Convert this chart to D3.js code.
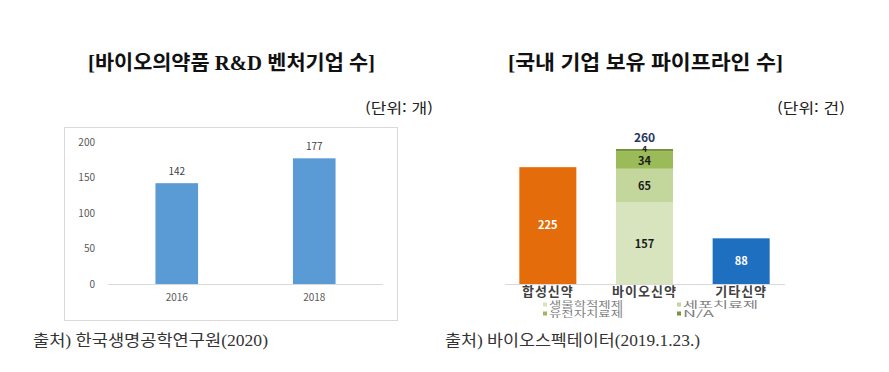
<!DOCTYPE html>
<html lang="ko">
<head>
<meta charset="utf-8">
<script src="https://cdn.jsdelivr.net/npm/d3@7"></script>
<style>
  body { margin: 0; background: #fff; }
  svg { display: block; }
  text { font-family: "Noto Sans CJK KR", "Noto Sans", sans-serif; }
</style>
</head>
<body>
<svg id="chart" width="889" height="372"></svg>
<script>
"use strict";

// left chart: venture companies
const ventureYears = ["2016", "2018"];
const ventureCounts = [142, 177];
const ventureTicks = [0, 50, 100, 150, 200];

// right chart: pipelines
const pipeCategories = ["합성신약", "바이오신약", "기타신약"];
const bioSegments = ["생물학적제제", "세포치료제", "유전자치료제", "N/A"];
const bioValues = [157, 65, 34, 4];
const otherValues = { "합성신약": 225, "기타신약": 88 };
const bioTotal = 260;

const svg = d3.select("#chart");

// titles and units
function title(x, txt, len) {
    svg.append("text")
        .attr("x", x).attr("y", 70)
        .attr("textLength", len).attr("lengthAdjust", "spacingAndGlyphs")
        .style("font-family", "'Liberation Serif', 'Noto Sans CJK KR'")
        .style("font-size", "20px").style("font-weight", "bold")
        .style("fill", "#111")
        .text(txt);
}
title(88, "[바이오의약품 R&D 벤처기업 수]", 287);
title(508, "[국내 기업 보유 파이프라인 수]", 275);

function unit(x, txt) {
    svg.append("text")
        .attr("x", x).attr("y", 113)
        .attr("textLength", 68).attr("lengthAdjust", "spacingAndGlyphs")
        .style("font-size", "14px").style("fill", "#222")
        .text(txt);
}
unit(365, "(단위: 개)");
unit(777, "(단위: 건)");

function source(x, txt, len) {
    svg.append("text")
        .attr("x", x).attr("y", 346)
        .attr("textLength", len).attr("lengthAdjust", "spacingAndGlyphs")
        .style("font-family", "'Liberation Serif', 'Noto Sans CJK KR'")
        .style("font-size", "16px").style("fill", "#333")
        .text(txt);
}
source(33, "출처) 한국생명공학연구원(2020)", 235);
source(445, "출처) 바이오스펙테이터(2019.1.23.)", 255);

// ---- left chart ----
svg.append("rect")
    .attr("x", 64.5).attr("y", 127.5)
    .attr("width", 333).attr("height", 193)
    .attr("fill", "none").attr("stroke", "#d9d9d9");

const xL = d3.scaleBand().domain(ventureYears).range([108, 383])
    .paddingInner(0.69).paddingOuter(0.345);
const yL = d3.scaleLinear().domain([0, 200]).range([284, 142]);

const gL = svg.append("g");
gL.selectAll("text.tick").data(ventureTicks).join("text")
    .attr("class", "tick")
    .attr("x", 95).attr("y", d => yL(d)).attr("dy", "0.35em")
    .attr("text-anchor", "end")
    .style("font-size", "10px").style("fill", "#595959")
    .text(d => d);

gL.append("line")
    .attr("x1", 108).attr("x2", 383)
    .attr("y1", yL(0) + 0.5).attr("y2", yL(0) + 0.5)
    .attr("stroke", "#d9d9d9");

gL.selectAll("rect.bar").data(ventureCounts).join("rect")
    .attr("class", "bar")
    .attr("x", (d, i) => xL(ventureYears[i]))
    .attr("y", d => yL(d))
    .attr("width", xL.bandwidth())
    .attr("height", d => yL(0) - yL(d))
    .attr("fill", "#5b9bd5");

gL.selectAll("text.val").data(ventureCounts).join("text")
    .attr("class", "val")
    .attr("x", (d, i) => xL(ventureYears[i]) + xL.bandwidth() / 2)
    .attr("y", d => yL(d) - 8)
    .attr("text-anchor", "middle")
    .style("font-size", "10px").style("fill", "#404040")
    .text(d => d);

gL.selectAll("text.cat").data(ventureYears).join("text")
    .attr("class", "cat")
    .attr("x", d => xL(d) + xL.bandwidth() / 2)
    .attr("y", 301)
    .attr("text-anchor", "middle")
    .style("font-size", "10px").style("fill", "#595959")
    .text(d => d);

// ---- right chart ----
const xR = d3.scaleBand().domain(pipeCategories).range([500, 789])
    .paddingInner(0.41).paddingOuter(0.2);
const yR = d3.scaleLinear().domain([0, bioTotal]).range([284, 149]);
const segColors = d3.scaleOrdinal().domain(bioSegments)
    .range(["#d7e4bd", "#c3d69b", "#9bbb59", "#77933c"]);

const gR = svg.append("g");

gR.append("line")
    .attr("x1", 505).attr("x2", 785)
    .attr("y1", 284.5).attr("y2", 284.5)
    .attr("stroke", "#d9d9d9");

// single bars
const singles = [
    { cat: "합성신약", value: otherValues["합성신약"], color: "#e46c0a" },
    { cat: "기타신약", value: otherValues["기타신약"], color: "#1f6fc0" }
];
gR.selectAll("rect.single").data(singles).join("rect")
    .attr("class", "single")
    .attr("x", d => xR(d.cat)).attr("y", d => yR(d.value))
    .attr("width", xR.bandwidth()).attr("height", d => yR(0) - yR(d.value))
    .attr("fill", d => d.color);
gR.selectAll("text.single").data(singles).join("text")
    .attr("class", "single")
    .attr("x", d => xR(d.cat) + xR.bandwidth() / 2)
    .attr("y", d => (yR(d.value) + yR(0)) / 2).attr("dy", "0.35em")
    .attr("text-anchor", "middle")
    .style("font-size", "11px").style("font-weight", "bold").style("fill", "#fff")
    .text(d => d.value);

// stacked bio bar
const stackData = [Object.fromEntries(bioSegments.map((k, i) => [k, bioValues[i]]))];
const series = d3.stack().keys(bioSegments)(stackData);
const bx = xR("바이오신약");
gR.selectAll("rect.seg").data(series).join("rect")
    .attr("class", "seg")
    .attr("x", bx).attr("y", d => yR(d[0][1]))
    .attr("width", xR.bandwidth())
    .attr("height", d => yR(d[0][0]) - yR(d[0][1]))
    .attr("fill", d => segColors(d.key));
gR.selectAll("text.seg").data(series).join("text")
    .attr("class", "seg")
    .attr("x", bx + xR.bandwidth() / 2)
    .attr("y", d => d.key === "N/A" ? yR(d[0][1]) : (yR(d[0][0]) + yR(d[0][1])) / 2 + 1)
    .attr("dy", "0.35em")
    .attr("text-anchor", "middle")
    .style("font-size", d => d.key === "N/A" ? "8px" : "11px")
    .style("font-weight", "bold").style("fill", "#1a1a1a")
    .text(d => d[0].data[d.key]);
gR.append("text")
    .attr("x", bx + xR.bandwidth() / 2).attr("y", yR(bioTotal) - 11).attr("dy", "0.35em")
    .attr("text-anchor", "middle")
    .style("font-size", "12px").style("font-weight", "bold").style("fill", "#1f3864")
    .text(bioTotal);

// category labels
gR.selectAll("text.cat").data(pipeCategories).join("text")
    .attr("class", "cat")
    .attr("x", d => xR(d) + xR.bandwidth() / 2)
    .attr("y", 296)
    .attr("text-anchor", "middle")
    .style("font-size", "13px").style("font-weight", "bold")
    .style("letter-spacing", "1px").style("fill", "#404040")
    .text(d => d);

// legend
const legPos = [[543, 305], [677, 305], [543, 314], [677, 314]];
const legLen = [74, 75, 74, 31];
const leg = gR.selectAll("g.leg").data(bioSegments).join("g")
    .attr("class", "leg")
    .attr("transform", (d, i) => `translate(${legPos[i][0]},${legPos[i][1]})`);
leg.append("rect")
    .attr("x", 0).attr("y", -2.5).attr("width", 4).attr("height", 4)
    .attr("fill", d => segColors(d));
leg.append("text")
    .attr("x", 6).attr("y", 0).attr("dy", "0.35em")
    .attr("textLength", (d, i) => legLen[i]).attr("lengthAdjust", "spacingAndGlyphs")
    .style("font-size", "9px").style("fill", "#7f7f7f")
    .text(d => d);
</script>
</body>
</html>
